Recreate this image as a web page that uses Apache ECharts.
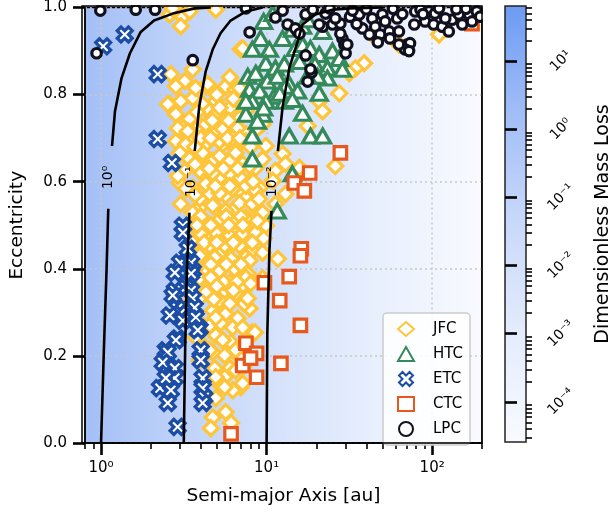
<!DOCTYPE html>
<html>
<head>
<meta charset="utf-8">
<script src="https://cdn.jsdelivr.net/npm/echarts@6/dist/echarts.min.js"></script>
<style>
html, body { margin: 0; padding: 0; background: #fff; }
#main { width: 614px; height: 516px; }
</style>
</head>
<body>
<div id="main"></div>
<script>
// ---- data: [semi-major axis (au), eccentricity] ----
var jfc = [
  [2.6,0.984],[3.12,0.979],[3.03,0.957],[2.71,0.998],[4.93,0.995],[3.43,0.991],
  [6.97,0.904],[3.58,0.858],[2.64,0.847],[3.2,0.831],[2.83,0.819],[4.29,0.819],[5.66,0.819],[6.5,0.812],
  [2.6,0.778],[3.03,0.785],[3.58,0.792],[4.93,0.785],[4.11,0.778],[6.0,0.769],[7.5,0.762],
  [2.83,0.755],[3.43,0.744],[4.53,0.762],[5.43,0.744],[6.87,0.746],
  [3.12,0.723],[3.94,0.728],[4.93,0.712],[6.24,0.716],[7.5,0.709],
  [2.83,0.693],[3.43,0.693],[4.29,0.686],[5.43,0.686],[6.5,0.677],
  [2.99,0.664],[3.94,0.654],[4.73,0.648],[6.0,0.648],[7.17,0.641],
  [3.2,0.625],[4.11,0.618],[5.2,0.609],[6.5,0.602],[2.99,0.597],[3.58,0.586],[4.53,0.572],[5.66,0.568],[7.17,0.572],
  [3.94,0.54],[4.93,0.54],[6.24,0.533],[4.11,0.51],[5.2,0.51],[6.5,0.494],[4.53,0.481],[5.66,0.471],[7.5,0.465],[4.29,0.449],[5.43,0.442],
  [3.73,0.815],[4.41,0.824],[6.87,0.815],[2.53,0.778],[4.93,0.755],[4.29,0.732],[2.91,0.723],[3.34,0.716],[5.43,0.721],[6.69,0.723],
  [9.46,0.732],[8.83,0.723],[5.2,0.693],[6.24,0.7],[7.5,0.693],[3.25,0.686],[9.9,0.682],[7.17,0.906],
  [43.5,0.938],[63,0.915],[38.8,0.872],[34.3,0.86],[31.6,0.849],[27.5,0.803],[20.8,0.785],[21.8,0.762],[17.7,0.728],[26,0.636],
  [12.5,0.664],[13,0.641],[11.3,0.625],[9.46,0.652],[8.6,0.632],[7.9,0.602],[9.1,0.586],[7.5,0.563],[8.6,0.54],[7.5,0.517],
  [9.1,0.494],[7.9,0.465],[8.2,0.442],[7.5,0.426],[10.9,0.602],[15.8,0.632],[110,0.938],
  [2.99,0.666],[3.43,0.652],[4.11,0.666],[5.2,0.659],[6.5,0.666],[7.9,0.636],[2.91,0.613],[3.94,0.625],[4.73,0.62],[6.0,0.618],
  [6.97,0.609],[3.25,0.584],[4.29,0.595],[5.2,0.574],[6.24,0.584],[7.5,0.59],[8.6,0.579],[13,0.572],[11.3,0.549],[3.03,0.549],
  [3.94,0.561],[4.73,0.545],[5.66,0.533],[6.87,0.551],[8.2,0.549],[9.46,0.529],[3.58,0.529],[4.29,0.506],[5.27,0.515],[6.5,0.51],
  [7.9,0.506],[3.25,0.492],[4.0,0.481],[4.93,0.483],[6.0,0.476],[7.17,0.481],[8.6,0.483],[9.9,0.499],[3.58,0.46],[4.53,0.453],
  [5.58,0.453],[6.87,0.453],[8.2,0.46],[9.46,0.437],[11.7,0.423],[3.94,0.43],[4.86,0.426],[6.1,0.423],[7.5,0.426],[4.29,0.4],
  [5.2,0.396],[6.4,0.4],[7.69,0.389],[9.46,0.378],[3.94,0.378],[4.86,0.368],[6.0,0.368],[7.17,0.362],[5.43,0.346],[4.29,0.346],
  [5.2,0.327],[6.5,0.343],[7.5,0.332],[7.9,0.309],[4.73,0.304],[5.66,0.297],[6.69,0.286],[4.53,0.27],[5.27,0.275],[6.24,0.265],
  [8.2,0.254],[4.93,0.247],[6.1,0.231],[4.73,0.208],[5.58,0.201],[6.97,0.195],[4.86,0.172],[6.0,0.172],[7.17,0.174],[5.58,0.151],
  [5.27,0.133],[6.97,0.128],[6.24,0.121],[4.93,0.103],[4.73,0.059],[4.6,0.034],[5.66,0.071],[6.1,0.046],[3.73,0.243],[4.23,0.22],
  [3.94,0.19],[4.93,0.151],[6.5,0.167],[7.17,0.137],[5.58,0.128],[4.53,0.213],[5.43,0.236],[6.5,0.213],[7.5,0.22],[7.17,0.265],
  [4.93,0.288],[7.35,0.32],[7.9,0.419],[7.5,0.38],[8.0,0.366],[7.69,0.332],[8.5,0.254],[3.34,0.419],[3.5,0.327],[3.84,0.281],
  [3.7,0.64],[4.5,0.63],[5.5,0.63],[6.7,0.63],[3.7,0.57],[4.9,0.59],[6.0,0.59],[4.0,0.52],[5.7,0.52],[7.0,0.52],
  [3.8,0.5],[4.6,0.5],[5.9,0.5],[7.2,0.5],[4.2,0.46],[5.0,0.46],[6.3,0.46],[4.6,0.41],[5.7,0.41],[7.0,0.41],
  [3.7,0.4],[4.6,0.38],[5.5,0.37],[6.6,0.37],[5.0,0.36],[6.3,0.35],[3.9,0.33],[4.8,0.33],[6.0,0.32],[4.0,0.7],
  [4.6,0.7],[5.8,0.7],[6.9,0.7],[3.7,0.68],[4.7,0.74],[5.9,0.74],[3.8,0.76],[5.2,0.77],[6.3,0.79],[5.0,0.8],
  [6.0,0.84],[7.3,0.78],[8.0,0.68],[8.3,0.6],[9.0,0.56],[8.8,0.51],[9.6,0.47]
];

var htc = [
  [9.2,0.929],[8.2,0.904],[10.4,0.904],[9.9,0.872],[11.3,0.861],[7.7,0.842],[8.6,0.849],[10.1,0.831],[11.6,0.842],[12.8,0.87],
  [13.7,0.824],[7.9,0.812],[9.1,0.808],[11.1,0.796],[8.2,0.785],[9.9,0.785],[12.8,0.785],[7.5,0.755],[9.5,0.755],[8.2,0.705],
  [13.7,0.705],[12.5,0.929],[14.9,0.906],[16.5,0.915],[18.4,0.906],[20.8,0.892],[25,0.9],[27.5,0.883],[28.7,0.858],[23.3,0.861],
  [19.6,0.87],[23.3,0.838],[20.3,0.842],[13.0,0.819],[15.4,0.808],[20.8,0.803],[12.0,0.803],[14.3,0.789],[16.5,0.757],[9.6,0.769],
  [18.4,0.705],[21.8,0.705],[8.2,0.652],[14.3,0.618],[11.6,0.533],[9.6,0.968],[10.9,0.986],[16.5,0.957],[17.7,0.972],[14.3,0.95],
  [21.8,0.945],[15.8,0.876],[17.7,0.842],[7.5,0.785],[8.8,0.739]
];

var etc = [
  [1.03,0.911],[1.39,0.938],[2.2,0.847],[2.2,0.698],[2.68,0.643],[3.12,0.499],[3.12,0.483],[3.2,0.412],[3.0,0.414],[2.79,0.391],
  [3.5,0.414],[3.58,0.396],[3.5,0.389],[3.25,0.357],[2.79,0.35],[3.5,0.35],[2.71,0.339],[3.58,0.332],[3.68,0.311],[2.9,0.309],
  [3.0,0.297],[3.73,0.288],[3.12,0.281],[3.94,0.263],[3.84,0.259],[2.9,0.24],[2.83,0.236],[4.0,0.213],[2.46,0.213],[2.53,0.208],
  [4.0,0.19],[2.53,0.178],[2.36,0.185],[2.79,0.172],[2.79,0.149],[4.11,0.149],[2.27,0.126],[2.64,0.121],[4.11,0.126],[4.2,0.105],
  [2.53,0.092],[4.11,0.092],[2.9,0.037],[2.46,0.149],[3.34,0.446],[2.6,0.293]
];

var ctc = [
  [27.9,0.666],[18.2,0.62],[14.7,0.597],[16.9,0.579],[16.2,0.446],[16.0,0.43],[13.7,0.382],[9.7,0.368],[12.0,0.327],[16.0,0.27],
  [7.5,0.229],[8.7,0.206],[12.2,0.183],[7.17,0.178],[8.0,0.195],[8.7,0.151],[6.1,0.021],[174,0.963]
];

var lpc = [
  [0.99,0.993],[1.62,0.995],[2.12,0.995],[0.94,0.895],[3.58,0.879],[7.9,0.943],[7.5,0.998],[11.3,0.977],[13.4,0.961],[17.2,0.984],
  [15.4,0.945],[17.2,0.89],[18.7,0.851],[17.7,0.83],[21.8,0.956],[22.7,0.986],[25,0.961],[27.9,0.963],[28.7,0.929],[29.5,0.915],
  [30,0.895],[31.9,0.979],[36.3,0.984],[37.9,0.952],[43.5,0.975],[45.3,0.956],[50,0.984],[52,0.968],[55,0.945],[55.6,0.929],
  [61.5,0.975],[63,0.945],[70.5,0.915],[73.5,0.918],[68.5,0.904],[78,0.961],[79,0.991],[90.6,0.968],[95.6,0.991],[104,0.986],
  [102,0.961],[115,0.956],[126,0.945],[132,0.972],[145,0.984],[152,0.961],[167,0.984],[174,0.968],[186,0.991],[195,0.979],
  [14.9,0.952],[15.8,0.94],[18.4,0.858],[20.8,0.961],[27.9,0.94],[30.7,0.915],[41.8,0.938],[48.5,0.938],[63,0.915],[72.5,0.9],
  [19,0.995],[24,0.998],[33,0.993],[40,0.996],[58,0.997],[85,0.995],[110,0.998],[140,0.996],[160,0.997],[12.5,0.993],
  [35,0.962],[47,0.92],[88,0.985],[120,0.975],[66,0.985],[26,0.975]
];

// contour lines of constant mass loss (null = gap for the label)
var contour0 = [[1.0,0],[1.04,0.213],[1.08,0.4],[1.106,0.538],null,[1.165,0.682],[1.214,0.762],[1.33,0.838],[1.495,0.895],[1.73,0.943],[2.09,0.97],[2.71,0.986],[3.68,0.998],[4.6,1.0]];
var contour1 = [[3.16,0],[3.22,0.213],[3.3,0.396],[3.42,0.529],null,[3.68,0.67],[3.92,0.773],[4.29,0.854],[4.73,0.904],[5.27,0.941],[6.06,0.97],[7.5,0.991],[9.46,1.0]];
var contour2 = [[10.0,0],[10.1,0.252],[10.4,0.442],[10.7,0.533],null,[11.7,0.67],[12.5,0.773],[13.7,0.86],[15.4,0.922],[16.5,0.961],[19.7,0.984],[25,0.995],[31.6,0.998],[50,1.0]];
var contourLabels = [
  { text: '10\u2070', at: [1.106, 0.61] },
  { text: '10\u207B\u00B9', at: [3.5, 0.60] },
  { text: '10\u207B\u00B2', at: [10.9, 0.60] }
];

var xMajor = [1, 10, 100];
var xMinor = [0.8, 0.9, 2, 3, 4, 5, 6, 7, 8, 9, 20, 30, 40, 50, 60, 70, 80, 90, 200];
var cbMajor = [1e-4, 1e-3, 1e-2, 1e-1, 1, 10];
var cbMin = 2.58e-5, cbMax = 64.4;

var sup = { '-': '\u207B', '0': '\u2070', '1': '\u00B9', '2': '\u00B2', '3': '\u00B3', '4': '\u2074' };
function powLabel(v) {
  var p = Math.round(Math.log10(v)).toString();
  return '10' + p.split('').map(function (c) { return sup[c]; }).join('');
}
var cbMinor = [];
for (var p = -5; p <= 1; p++) {
  for (var m = 2; m <= 9; m++) {
    var v = m * Math.pow(10, p);
    if (v > cbMin && v < cbMax) cbMinor.push(v);
  }
}

// colormap: white -> cornflower blue
var cmap = [[0, [248, 250, 255]], [0.25, [228, 236, 252]], [0.5, [201, 217, 250]], [0.75, [162, 190, 247]], [1, [108, 155, 243]]];
function cmapAt(t) {
  for (var i = 1; i < cmap.length; i++) {
    if (t <= cmap[i][0]) {
      var a = cmap[i - 1], b = cmap[i], f = (t - a[0]) / (b[0] - a[0]);
      var c = a[1].map(function (x, k) { return Math.round(x + (b[1][k] - x) * f); });
      return 'rgb(' + c.join(',') + ')';
    }
  }
  return 'rgb(' + cmap[cmap.length - 1][1].join(',') + ')';
}
var tLeft = 0.745;
var plotStops = [0, 0.25, 0.5, 0.75, 1].map(function (f) { return { offset: f, color: cmapAt(tLeft * (1 - f)) }; });
var cbStops = [0, 0.25, 0.5, 0.75, 1].map(function (f) { return { offset: f, color: cmapAt(1 - f) }; });

var FONT = 'DejaVu Sans';
var G = { left: 82, top: 6, width: 400, height: 437 };

var xSymbol = 'path://M6,0L4,2L2,0L0,2L2,4L0,6L2,8L4,6L6,8L8,6L6,4L8,2Z';

function scatter(name, data, symbol, size, color) {
  return {
    name: name, type: 'scatter', data: data, symbol: symbol, symbolSize: size,
    xAxisIndex: 0, yAxisIndex: 0, z: 2,
    itemStyle: { color: '#fff', borderColor: color, borderWidth: 3.2, opacity: 1 },
    emphasis: { disabled: true }
  };
}
function contour(data) {
  return {
    type: 'line', data: data.map(function (d) { return d ? d : ['-', '-']; }),
    xAxisIndex: 0, yAxisIndex: 0, showSymbol: false, connectNulls: false, z: 4,
    lineStyle: { color: '#000', width: 2.6 }, silent: true
  };
}

var chart = echarts.init(document.getElementById('main'));
var option = {
  animation: false,
  textStyle: { fontFamily: FONT },
  grid: [
    { left: G.left, top: G.top, width: G.width, height: G.height, show: true, borderColor: '#000', borderWidth: 1.5,
      backgroundColor: { type: 'linear', x: 0, y: 0, x2: 1, y2: 0, colorStops: plotStops } },
    { left: 505, top: 6, width: 22, height: 436, show: true, borderColor: '#222', borderWidth: 1.5,
      backgroundColor: { type: 'linear', x: 0, y: 0, x2: 0, y2: 1, colorStops: cbStops } }
  ],
  xAxis: [
    { gridIndex: 0, type: 'log', logBase: 10, min: 0.8, max: 200, position: 'bottom',
      name: 'Semi-major Axis [au]', nameLocation: 'middle', nameGap: 44,
      nameTextStyle: { fontSize: 18.5, color: '#000', fontFamily: FONT },
      axisLine: { show: true, lineStyle: { color: '#000', width: 1.5 } },
      axisTick: { show: true, customValues: xMajor, length: 12, lineStyle: { color: '#000', width: 2.6 } },
      axisLabel: { customValues: xMajor, formatter: powLabel, fontSize: 15, color: '#000', margin: 18, fontFamily: FONT },
      splitLine: { show: true, lineStyle: { color: '#c8c8c8', width: 1.5, type: [2, 3] } },
      minorTick: { show: false }
    },
    { gridIndex: 0, type: 'log', logBase: 10, min: 0.8, max: 200, position: 'bottom',
      axisLine: { show: false },
      axisTick: { show: true, customValues: xMinor, length: 6, lineStyle: { color: '#000', width: 1.6 } },
      axisLabel: { show: false }, splitLine: { show: false }
    },
    { gridIndex: 1, type: 'value', min: 0, max: 1, show: false }
  ],
  yAxis: [
    { gridIndex: 0, type: 'value', min: 0, max: 1, interval: 0.2, position: 'left',
      name: 'Eccentricity', nameLocation: 'middle', nameGap: 58, nameRotate: 90,
      nameTextStyle: { fontSize: 18.5, color: '#000', fontFamily: FONT },
      axisLine: { show: true, lineStyle: { color: '#000', width: 1.5 } },
      axisTick: { show: true, length: 12, lineStyle: { color: '#000', width: 2.6 } },
      axisLabel: { formatter: function (v) { return v.toFixed(1); }, fontSize: 15, color: '#000', margin: 18, fontFamily: FONT },
      splitLine: { show: true, lineStyle: { color: '#c8c8c8', width: 1.5, type: [2, 3] } }
    },
    { gridIndex: 1, type: 'log', logBase: 10, min: cbMin, max: cbMax, position: 'right',
      name: 'Dimensionless Mass Loss', nameLocation: 'middle', nameGap: 68, nameRotate: 90,
      nameTextStyle: { fontSize: 19, color: '#000', fontFamily: FONT },
      axisLine: { show: false },
      axisTick: { show: true, customValues: cbMajor, length: 12, lineStyle: { color: '#000', width: 2.6 } },
      axisLabel: { customValues: cbMajor, formatter: powLabel, fontSize: 14, color: '#000', margin: 35, rotate: 45,
        align: 'center', verticalAlign: 'middle', fontFamily: FONT },
      splitLine: { show: false }
    },
    { gridIndex: 1, type: 'log', logBase: 10, min: cbMin, max: cbMax, position: 'right',
      axisLine: { show: false },
      axisTick: { show: true, customValues: cbMinor, length: 6, lineStyle: { color: '#000', width: 1.6 } },
      axisLabel: { show: false }, splitLine: { show: false }
    }
  ],
  legend: {
    data: ['JFC', 'HTC', 'ETC', 'CTC', 'LPC'],
    orient: 'vertical', left: 383, top: 313,
    padding: [8, 7, 8, 14], itemGap: 9, itemWidth: 16, itemHeight: 14,
    backgroundColor: 'rgba(255,255,255,0.85)', borderColor: '#cccccc', borderWidth: 1.5, borderRadius: 4,
    textStyle: { fontSize: 15, color: '#000', fontFamily: FONT, padding: [0, 0, 0, 14] },
    selectedMode: false
  },
  series: [
    scatter('JFC', jfc, 'diamond', 15, '#FFC53A'),
    scatter('HTC', htc, 'triangle', [16, 14], '#348A5A'),
    scatter('ETC', etc, xSymbol, 15, '#1B4DA5'),
    scatter('CTC', ctc, 'rect', 12.5, '#E8571C'),
    scatter('LPC', lpc, 'circle', 9.5, '#10101e'),
    contour(contour0), contour(contour1), contour(contour2)
  ]
};
chart.setOption(option);

// contour labels + clipping covers, placed through the chart's own coordinate system
var gfx = [
  { type: 'rect', z: 50, shape: { x: G.left, y: 0, width: G.width, height: G.top - 0.7 }, style: { fill: '#fff' } },
  { type: 'rect', z: 50, shape: { x: G.left + G.width + 0.7, y: 0, width: 20, height: G.top + G.height }, style: { fill: '#fff' } },
  { type: 'rect', z: 51, shape: { x: G.left, y: G.top, width: G.width, height: G.height }, style: { fill: 'none', stroke: '#000', lineWidth: 1.5 } }
];
contourLabels.forEach(function (l) {
  var pt = chart.convertToPixel({ gridIndex: 0 }, l.at);
  gfx.push({
    type: 'text', x: pt[0], y: pt[1], rotation: Math.PI / 2, z: 10,
    style: { text: l.text, fontSize: 14, fontFamily: FONT, fill: '#000', align: 'center', verticalAlign: 'middle' }
  });
});
chart.setOption({ graphic: gfx });
</script>
</body>
</html>
